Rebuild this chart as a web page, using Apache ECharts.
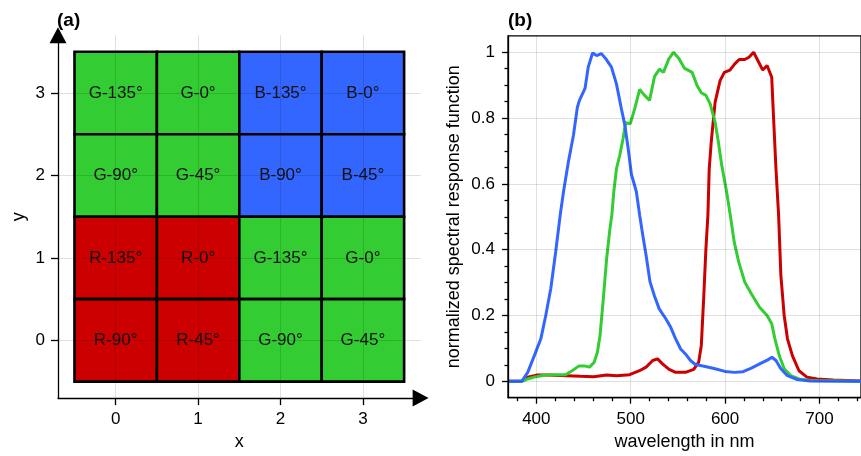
<!DOCTYPE html>
<html>
<head>
<meta charset="utf-8">
<script src="https://cdn.jsdelivr.net/npm/echarts@6/dist/echarts.min.js"></script>
<style>html,body{margin:0;padding:0;background:#fff;}#c{width:861px;height:456px;}</style>
</head>
<body>
<div id="c"></div>
<script>
// ---- Panel (a): pixel mosaic (rows from y=3 down to y=0) ----
const mosaicRows = [
  ['G-135°', 'G-0°', 'B-135°', 'B-0°'],
  ['G-90°', 'G-45°', 'B-90°', 'B-45°'],
  ['R-135°', 'R-0°', 'G-135°', 'G-0°'],
  ['R-90°', 'R-45°', 'G-90°', 'G-45°']
];
const mosaicTicks = [0, 1, 2, 3];

// ---- Panel (b): spectral response curves [wavelength nm, normalized value] ----
const redCurve = [[370,0],[384.6,0],[390.9,0.012],[401.3,0.019],[411.8,0.019],[432.7,0.017],[446.6,0.015],[460.6,0.014],[474.5,0.019],[485,0.017],[498.9,0.020],[509.3,0.032],[516.3,0.043],[523.3,0.063],[528.5,0.068],[533.7,0.053],[540.7,0.036],[547.6,0.027],[558,0.027],[566.8,0.036],[572,0.058],[574.8,0.109],[577.3,0.251],[579.7,0.403],[581.8,0.505],[583.2,0.646],[585.3,0.727],[589.4,0.848],[594.7,0.914],[599.2,0.939],[605.1,0.946],[610.3,0.965],[614.9,0.978],[620.8,0.978],[625.3,0.985],[630.2,1.0],[634.7,0.975],[639.9,0.946],[644.5,0.96],[649.4,0.924],[651.4,0.798],[653.9,0.646],[656.7,0.505],[659.1,0.322],[662.6,0.2],[666.1,0.129],[671.3,0.078],[678.3,0.032],[687,0.012],[697.4,0.007],[714.8,0.004],[744,0.001]];
const greenCurve = [[370,0],[384.6,0],[390.9,0.007],[399.6,0.014],[408.3,0.018],[418.8,0.02],[431,0.02],[437.9,0.032],[444.9,0.046],[451.9,0.046],[456.4,0.043],[461.3,0.058],[464.7,0.088],[467.5,0.139],[471,0.251],[474.5,0.373],[478,0.464],[480,0.505],[482.1,0.576],[484.9,0.646],[488.4,0.687],[491.9,0.737],[494.7,0.786],[499.6,0.783],[504.2,0.828],[509.5,0.887],[514.7,0.869],[520,0.854],[525.3,0.927],[530.5,0.949],[534.7,0.939],[540.4,0.98],[545.3,1.0],[550.9,0.982],[556.8,0.952],[565.1,0.939],[570.3,0.899],[574.8,0.877],[579.7,0.869],[584.2,0.843],[589.4,0.788],[592.9,0.727],[596.4,0.657],[601.6,0.576],[605.5,0.505],[609.7,0.423],[614.5,0.362],[620.8,0.302],[627.8,0.266],[636.5,0.225],[644.5,0.2],[649.4,0.175],[652.8,0.129],[657.4,0.078],[662.6,0.038],[669.6,0.017],[678.3,0.007],[690.5,0.002],[744,0]];
const blueCurve = [[370,0],[384.6,0],[390.9,0.027],[397.9,0.078],[404.8,0.129],[410,0.2],[415.3,0.281],[420.5,0.393],[425.3,0.505],[428.8,0.576],[434,0.667],[439.3,0.747],[443.5,0.833],[445.6,0.853],[451.6,0.89],[455,0.955],[459.6,0.998],[463.9,0.99],[469,0.996],[473.7,0.98],[479.6,0.955],[484.9,0.904],[490,0.83],[493.7,0.78],[497.2,0.71],[500.7,0.63],[506,0.576],[509.5,0.505],[512.8,0.444],[516.3,0.383],[520.5,0.302],[525,0.261],[530.2,0.22],[537.2,0.19],[542.4,0.164],[547.6,0.129],[552.9,0.098],[558,0.083],[563.3,0.063],[568.5,0.051],[579,0.045],[589.4,0.038],[599.9,0.030],[610.3,0.027],[619,0.029],[627.8,0.040],[638.2,0.055],[645.2,0.065],[649.7,0.073],[653.9,0.063],[659.1,0.038],[666,0.017],[676.5,0.005],[690.5,0.001],[744,0]];
const wlMajorTicks = [400, 500, 600, 700];
const wlMinorTicks = [380, 420, 440, 460, 480, 520, 540, 560, 580, 620, 640, 660, 680, 720, 740];
const respMajorTicks = [0, 0.2, 0.4, 0.6, 0.8, 1];
const respMinorTicks = [0.05, 0.1, 0.15, 0.25, 0.3, 0.35, 0.45, 0.5, 0.55, 0.65, 0.7, 0.75, 0.85, 0.9, 0.95];

const channelColor = { R: '#CC0000', G: '#33CC33', B: '#3366FF' };
const FONT = 'Liberation Sans, Arial, Helvetica, sans-serif';

const cellData = [];
mosaicRows.forEach((row, r) => {
  row.forEach((label, c) => {
    cellData.push([mosaicTicks[c], mosaicTicks[mosaicTicks.length - 1 - r], label]);
  });
});

const chart = echarts.init(document.getElementById('c'), null, { renderer: 'canvas' });
const gridLine = { show: true, lineStyle: { color: 'rgba(0,0,0,0.12)', width: 1 } };
const blackLine = { color: '#000', width: 1.3 };
const tickLabel = { color: '#000', fontSize: 17, fontFamily: FONT };
const nameStyle = { color: '#000', fontSize: 18, fontFamily: FONT };

chart.setOption({
  animation: false,
  backgroundColor: '#fff',
  title: [
    { text: '(a)', left: 57, top: 11, padding: 0, textStyle: { fontWeight: 'bold', fontSize: 19, fontFamily: FONT, color: '#000' } },
    { text: '(b)', left: 508, top: 11, padding: 0, textStyle: { fontWeight: 'bold', fontSize: 19, fontFamily: FONT, color: '#000' } }
  ],
  grid: [
    { left: 58, top: 35.3, width: 362.6, height: 363, show: false },
    { left: 508, top: 35.85, width: 358, height: 361.85, show: true, borderColor: '#000', borderWidth: 1.3, backgroundColor: 'transparent' }
  ],
  xAxis: [
    {
      gridIndex: 0, type: 'value', position: 'bottom', min: -0.7, max: 3.7, z: 5,
      name: 'x', nameLocation: 'middle', nameGap: 32, nameTextStyle: nameStyle,
      axisLine: { onZero: false, symbol: ['none', 'triangle'], symbolSize: [17, 16], lineStyle: blackLine },
      axisTick: { customValues: mosaicTicks, length: 7, lineStyle: blackLine },
      axisLabel: Object.assign({ customValues: mosaicTicks, margin: 13 }, tickLabel),
      splitLine: gridLine
    },
    {
      gridIndex: 1, type: 'value', position: 'bottom', min: 370, max: 744, z: 3,
      name: 'wavelength in nm', nameLocation: 'middle', nameGap: 35, nameTextStyle: nameStyle,
      axisLine: { onZero: false, lineStyle: blackLine },
      axisTick: { customValues: wlMajorTicks, length: 6, lineStyle: blackLine },
      axisLabel: Object.assign({ customValues: wlMajorTicks, margin: 13 }, tickLabel),
      splitLine: gridLine
    },
    {
      gridIndex: 1, type: 'value', position: 'bottom', min: 370, max: 744,
      axisLine: { show: false, onZero: false },
      axisTick: { customValues: wlMinorTicks, length: 3.5, lineStyle: blackLine },
      axisLabel: { show: false },
      splitLine: { show: false }
    }
  ],
  yAxis: [
    {
      gridIndex: 0, type: 'value', position: 'left', min: -0.7, max: 3.7, z: 5,
      name: 'y', nameLocation: 'middle', nameGap: 30, nameTextStyle: nameStyle,
      axisLine: { onZero: false, symbol: ['none', 'triangle'], symbolSize: [17, 16], lineStyle: blackLine },
      axisTick: { customValues: mosaicTicks, length: 7, lineStyle: blackLine },
      axisLabel: Object.assign({ customValues: mosaicTicks, margin: 13 }, tickLabel),
      splitLine: gridLine
    },
    {
      gridIndex: 1, type: 'value', position: 'left', min: -0.05, max: 1.05, z: 3,
      name: 'normalized spectral response function', nameLocation: 'middle', nameGap: 45, nameTextStyle: nameStyle,
      axisLine: { onZero: false, lineStyle: blackLine },
      axisTick: { customValues: respMajorTicks, length: 6, lineStyle: blackLine },
      axisLabel: Object.assign({ customValues: respMajorTicks, margin: 13, formatter: v => String(+v.toFixed(2)) }, tickLabel),
      splitLine: gridLine
    },
    {
      gridIndex: 1, type: 'value', position: 'left', min: -0.05, max: 1.05,
      axisLine: { show: false, onZero: false },
      axisTick: { customValues: respMinorTicks, length: 3.5, lineStyle: blackLine },
      axisLabel: { show: false },
      splitLine: { show: false }
    }
  ],
  series: [
    {
      type: 'custom', xAxisIndex: 0, yAxisIndex: 0, z: 2,
      data: cellData,
      renderItem: function (params, api) {
        const x = api.value(0), y = api.value(1);
        const label = cellData[params.dataIndex][2];
        const p0 = api.coord([x - 0.5, y + 0.5]);
        const p1 = api.coord([x + 0.5, y - 0.5]);
        return {
          type: 'group',
          children: [
            { type: 'rect', shape: { x: p0[0], y: p0[1], width: p1[0] - p0[0], height: p1[1] - p0[1] },
              style: { fill: channelColor[label[0]], stroke: '#000', lineWidth: 2.6 } },
            { type: 'text', style: { text: label, x: (p0[0] + p1[0]) / 2, y: (p0[1] + p1[1]) / 2,
              align: 'center', verticalAlign: 'middle', fontSize: 17, fontFamily: FONT, fill: '#111' } }
          ]
        };
      }
    },
    { type: 'line', xAxisIndex: 1, yAxisIndex: 1, data: redCurve, showSymbol: false, symbol: 'none',
      lineStyle: { color: channelColor.R, width: 3 }, itemStyle: { color: channelColor.R }, z: 2 },
    { type: 'line', xAxisIndex: 1, yAxisIndex: 1, data: greenCurve, showSymbol: false, symbol: 'none',
      lineStyle: { color: channelColor.G, width: 3 }, itemStyle: { color: channelColor.G }, z: 2 },
    { type: 'line', xAxisIndex: 1, yAxisIndex: 1, data: blueCurve, showSymbol: false, symbol: 'none',
      lineStyle: { color: channelColor.B, width: 3 }, itemStyle: { color: channelColor.B }, z: 2 }
  ]
});
</script>
</body>
</html>
